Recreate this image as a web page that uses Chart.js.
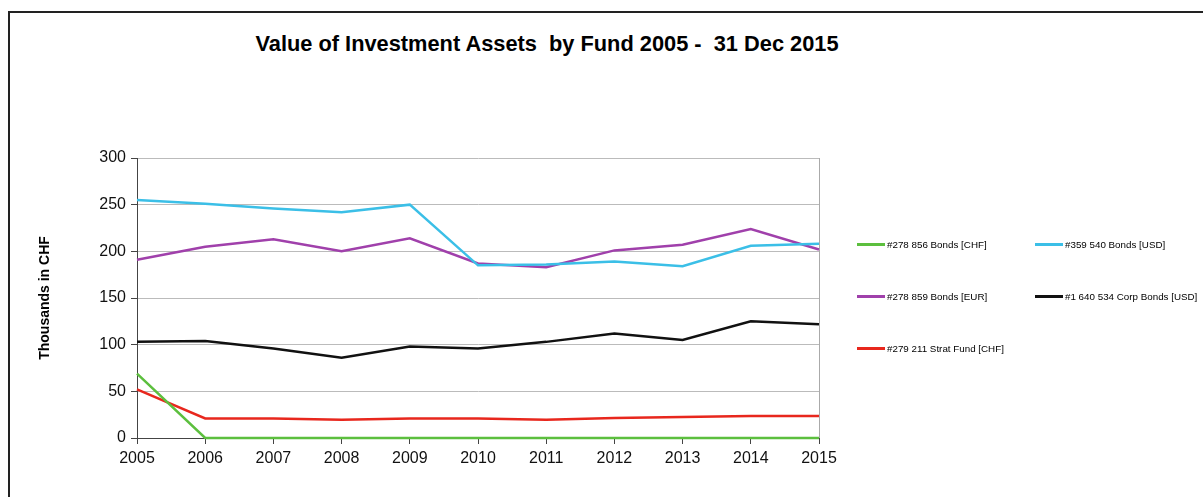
<!DOCTYPE html>
<html>
<head>
<meta charset="utf-8">
<script src="https://cdn.jsdelivr.net/npm/chart.js@4/dist/chart.umd.min.js"></script>
<style>
  body { margin: 0; background: #fff; font-family: "Liberation Sans", Arial, sans-serif; }
  #wrap { position: relative; width: 1203px; height: 497px; overflow: hidden; }
  #frame { position: absolute; left: 8px; top: 11px; width: 1200px; height: 490px;
           border-left: 2px solid #222; border-top: 2px solid #222; }
  #title { position: absolute; left: 0; width: 1094px; top: 31px; text-align: center;
           font-weight: bold; font-size: 21.8px; white-space: pre; color: #000; }
  #chartBox { position: absolute; left: 0; top: 0; width: 1203px; height: 497px; }
  #legend { position: absolute; left: 857px; top: 239px; width: 346px; }
  .item { position: absolute; font-size: 9.8px; color: #000; white-space: nowrap; display: flex; align-items: center; }
  .swatch { display: inline-block; width: 28px; height: 3px; margin-right: 2px; }
</style>
</head>
<body>
<div id="wrap">
  <div id="frame"></div>
  <div id="title">Value of Investment Assets  by Fund 2005 -  31 Dec 2015</div>
  <div id="chartBox"><canvas id="fundChart" width="1203" height="497"></canvas></div>
  <div id="legend"></div>
</div>
<script>
// categories
const years = ['2005', '2006', '2007', '2008', '2009', '2010', '2011', '2012', '2013', '2014', '2015'];

// fund values, thousands of CHF
const bondsCHF = [69, 0, 0, 0, 0, 0, 0, 0, 0, 0, 0];
const bondsUSD = [255, 251, 246, 242, 250, 185, 186, 189, 184, 206, 208];
const bondsEUR = [191, 205, 213, 200, 214, 187, 183, 201, 207, 224, 202];
const corpBondsUSD = [103, 104, 96, 86, 98, 96, 103, 112, 105, 125, 122];
const stratFundCHF = [52, 21, 21, 19.5, 21, 21, 19.5, 21.5, 22.5, 23.5, 23.5];

const seriesNames = ['#278 856 Bonds [CHF]', '#359 540 Bonds [USD]', '#278 859 Bonds [EUR]',
                     '#1 640 534 Corp Bonds [USD]', '#279 211 Strat Fund [CHF]'];
const seriesColors = ['#5cbf3e', '#3bbfe7', '#a040ab', '#111111', '#e8271d'];
const seriesData = [bondsCHF, bondsUSD, bondsEUR, corpBondsUSD, stratFundCHF];

const datasets = seriesData.map((d, i) => ({
    label: seriesNames[i],
    data: d,
    borderColor: seriesColors[i],
    backgroundColor: seriesColors[i],
    borderWidth: 2.5,
    pointRadius: 0,
    tension: 0,
    fill: false,
    clip: false
}));

new Chart(document.getElementById('fundChart'), {
    type: 'line',
    data: { labels: years, datasets: datasets },
    options: {
        responsive: false,
        animation: false,
        layout: { padding: { left: 33, top: 158, right: 384, bottom: 0 } },
        plugins: {
            legend: { display: false },
            tooltip: { enabled: false }
        },
        scales: {
            x: {
                offset: false,
                grid: {
                    color: c => c.index === years.length - 1 ? '#aaaaaa' : 'rgba(0,0,0,0)',
                    tickColor: '#444',
                    tickLength: 6
                },
                border: { color: '#444', width: 1 },
                ticks: { color: '#111', font: { family: 'Liberation Sans', size: 16 }, padding: 5, maxRotation: 0 },
                afterFit: s => { s.height = 59; }
            },
            y: {
                min: 0,
                max: 300,
                ticks: { stepSize: 50, color: '#111', font: { family: 'Liberation Sans', size: 16 }, padding: 5 },
                grid: { color: '#bbbbbb', tickColor: '#444', tickLength: 6 },
                border: { color: '#444', width: 1 },
                title: {
                    display: true,
                    text: 'Thousands in CHF',
                    color: '#000',
                    font: { family: 'Liberation Sans', size: 14, weight: 'bold' }
                },
                afterFit: s => { s.width = 104; }
            }
        }
    }
});

// legend in two columns, built from the dataset names and colours
const legend = document.getElementById('legend');
seriesNames.forEach((name, i) => {
    const el = document.createElement('div');
    el.className = 'item';
    el.style.left = (i % 2 === 0 ? 0 : 178) + 'px';
    el.style.top = (Math.floor(i / 2) * 52) + 'px';
    el.innerHTML = '<span class="swatch" style="background:' + seriesColors[i] + '"></span>' + name;
    legend.appendChild(el);
});
</script>
</body>
</html>
